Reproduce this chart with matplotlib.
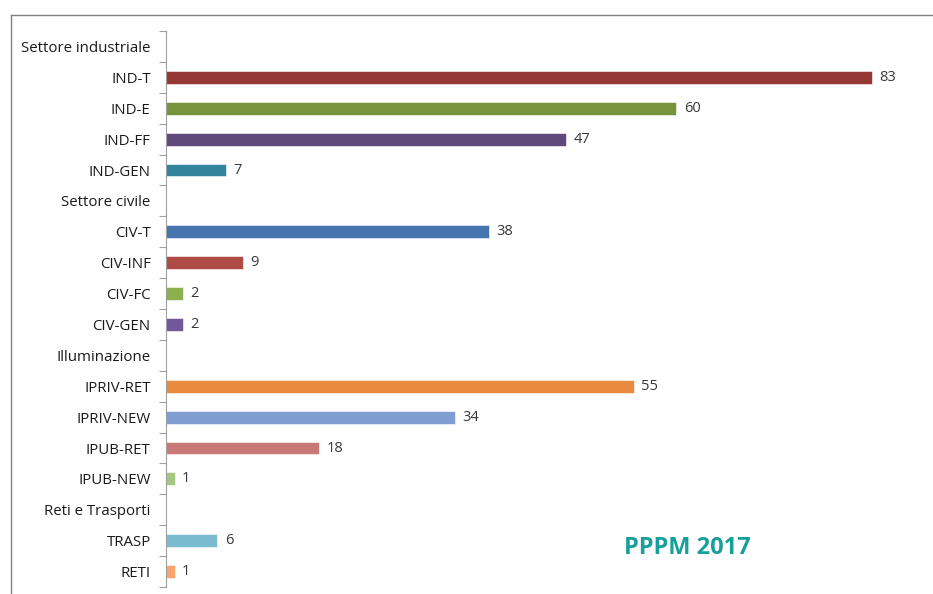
import matplotlib
matplotlib.use('Agg')
import matplotlib.pyplot as plt
from matplotlib.lines import Line2D

# Categories top to bottom, None = section header (no bar)
categories = ['Settore industriale', 'IND-T', 'IND-E', 'IND-FF', 'IND-GEN',
              'Settore civile', 'CIV-T', 'CIV-INF', 'CIV-FC', 'CIV-GEN',
              'Illuminazione', 'IPRIV-RET', 'IPRIV-NEW', 'IPUB-RET', 'IPUB-NEW',
              'Reti e Trasporti', 'TRASP', 'RETI']
values = [None, 83, 60, 47, 7,
          None, 38, 9, 2, 2,
          None, 55, 34, 18, 1,
          None, 6, 1]
colors = [None, '#953735', '#77933C', '#604A7B', '#31849B',
          None, '#4573AE', '#B04A47', '#8CB04E', '#72589A',
          None, '#E98B3E', '#7F9DD0', '#C97878', '#A8C77E',
          None, '#7BBBD0', '#F7A46D']
stamp = 'PPPM 2017'

plt.rcParams['font.family'] = ['Open Sans', 'DejaVu Sans']

W, H = 933, 594
fig = plt.figure(figsize=(W / 100, H / 100), dpi=100)
left, right, top, bottom = 166, 905, 31, 587
ax = fig.add_axes([left / W, 1 - bottom / H, (right - left) / W, (bottom - top) / H])

n = len(categories)
ypos = list(range(n))
for i in range(n):
    if values[i] is None:
        continue
    b = ax.barh(ypos[i], values[i], height=0.42, color=colors[i],
                edgecolor='white', linewidth=0.4)
    ax.bar_label(b, labels=[str(values[i])], padding=5.5, fontsize=10.5,
                 color='#383838')

ax.set_ylim(n - 0.5, -0.5)
ax.set_xlim(0, (right - left) / 8.5)

ax.set_yticks(ypos)
ax.set_yticklabels(categories, fontsize=10.8, color='#1a1a1a')
ax.tick_params(axis='y', which='major', length=0, pad=11)
ax.set_yticks([i - 0.5 for i in range(n + 1)], minor=True)
ax.tick_params(axis='y', which='minor', length=5, color='#a0a0a0', width=0.8)
ax.set_xticks([])

for s in ['top', 'right', 'bottom']:
    ax.spines[s].set_visible(False)
ax.spines['left'].set_color('#a0a0a0')
ax.spines['left'].set_linewidth(0.8)

# outer chart frame (cut by the screenshot at the right and bottom)
fig.add_artist(Line2D([11 / W, 1.0], [1 - 15 / H, 1 - 15 / H],
                      transform=fig.transFigure, color='#808080', lw=1))
fig.add_artist(Line2D([11 / W, 11 / W], [0, 1 - 15 / H],
                      transform=fig.transFigure, color='#808080', lw=1))

fig.text(687 / W, 1 - 548 / H, stamp, fontsize=17, fontweight='bold',
         color='#17A09B', ha='center', va='center')

fig.savefig('out.png', dpi=100)
